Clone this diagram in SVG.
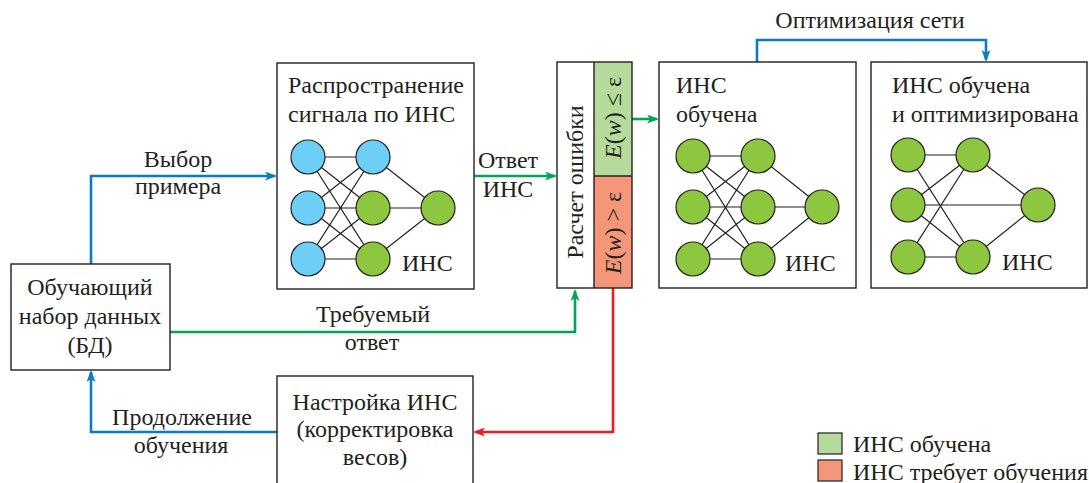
<svg xmlns="http://www.w3.org/2000/svg" width="1089" height="483" viewBox="0 0 1089 483">
<defs>
<style>
text{font-family:'Liberation Serif','Times New Roman',serif;font-size:24px;fill:#231f20}
.box{fill:#fff;stroke:#231f20;stroke-width:1.4}
.edge{stroke:#231f20;stroke-width:1.2;fill:none}
.nb{fill:#6dcff6;stroke:#231f20;stroke-width:1.2}
.ng{fill:#8dc63f;stroke:#231f20;stroke-width:1.2}
.c{fill:none;stroke-width:2.6}
.blue{stroke:#0a7cc4}
.green{stroke:#00a651}
.red{stroke:#ed1c24}
.mid{text-anchor:middle}
</style>
<marker id="ab" viewBox="0 0 12 9" refX="10" refY="4.5" markerWidth="12" markerHeight="9" markerUnits="userSpaceOnUse" orient="auto"><path d="M0,0 L12,4.5 L0,9 L3,4.5 Z" fill="#0a7cc4"/></marker>
<marker id="ag" viewBox="0 0 12 9" refX="10" refY="4.5" markerWidth="12" markerHeight="9" markerUnits="userSpaceOnUse" orient="auto"><path d="M0,0 L12,4.5 L0,9 L3,4.5 Z" fill="#00a651"/></marker>
<marker id="ar" viewBox="0 0 12 9" refX="10" refY="4.5" markerWidth="12" markerHeight="9" markerUnits="userSpaceOnUse" orient="auto"><path d="M0,0 L12,4.5 L0,9 L3,4.5 Z" fill="#ed1c24"/></marker>
</defs>
<rect width="1089" height="483" fill="#fff"/>
<g font-family="'Liberation Serif', 'Times New Roman', serif" font-size="24">

<g id="connectors">
<path class="c blue" d="M91,264 V176 H275" marker-end="url(#ab)"/>
<path class="c green" d="M474,176 H555" marker-end="url(#ag)"/>
<path class="c green" d="M632,119 H657" marker-end="url(#ag)"/>
<path class="c blue" d="M757,62 V40 H986 V60" marker-end="url(#ab)"/>
<path class="c green" d="M170,332 H575 V291" marker-end="url(#ag)"/>
<path class="c red" d="M613,288 V432 H475" marker-end="url(#ar)"/>
<path class="c blue" d="M277,432 H91 V372" marker-end="url(#ab)"/>
<text class="mid" x="178" y="167">Выбор</text>
<text class="mid" x="178" y="194">примера</text>
<text class="mid" x="508" y="168">Ответ</text>
<text class="mid" x="508" y="197">ИНС</text>
<text class="mid" x="870" y="28">Оптимизация сети</text>
<text class="mid" x="373" y="322">Требуемый</text>
<text class="mid" x="372" y="350">ответ</text>
<text class="mid" x="182" y="425">Продолжение</text>
<text class="mid" x="181" y="453">обучения</text>
</g>

<g id="dataset">
<rect class="box" x="11" y="264" width="159" height="106"/>
<text class="mid" x="90" y="295">Обучающий</text>
<text class="mid" x="90" y="324">набор данных</text>
<text class="mid" x="90" y="353">(БД)</text>
</g>

<g id="propagation">
<rect class="box" x="277" y="63" width="197" height="226"/>
<text x="288" y="93">Распространение</text>
<text x="288" y="122">сигнала по ИНС</text>
<g class="edge">
<path d="M308,157 L373,157 M308,157 L373,208 M308,157 L373,259 M308,208 L373,157 M308,208 L373,208 M308,208 L373,259 M308,259 L373,157 M308,259 L373,208 M308,259 L373,259 M373,157 L438,208 M373,208 L438,208 M373,259 L438,208"/>
</g>
<circle class="nb" cx="308" cy="157" r="17"/>
<circle class="nb" cx="308" cy="208" r="17"/>
<circle class="nb" cx="308" cy="259" r="17"/>
<circle class="nb" cx="373" cy="157" r="17"/>
<circle class="ng" cx="373" cy="208" r="17"/>
<circle class="ng" cx="373" cy="259" r="17"/>
<circle class="ng" cx="438" cy="208" r="17"/>
<text x="402" y="271">ИНС</text>
</g>

<g id="error">
<rect x="594" y="62" width="38" height="114" fill="#b5db9c"/>
<rect x="594" y="176" width="38" height="112" fill="#f4967a"/>
<rect x="557" y="62" width="75" height="226" fill="none" stroke="#231f20" stroke-width="1.4"/>
<path d="M594,62 V288 M594,176 H632" stroke="#231f20" stroke-width="1.4" fill="none"/>
<text class="mid" transform="translate(583,182) rotate(-90)">Расчет ошибки</text>
<text class="mid" transform="translate(621,118) rotate(-90)"><tspan font-style="italic">E</tspan>(<tspan font-style="italic">w</tspan>) ≤ ε</text>
<text class="mid" transform="translate(621,233) rotate(-90)"><tspan font-style="italic">E</tspan>(<tspan font-style="italic">w</tspan>) &gt; ε</text>
</g>

<g id="trained">
<rect class="box" x="659" y="62" width="197" height="226"/>
<text x="676" y="93">ИНС</text>
<text x="676" y="122">обучена</text>
<g class="edge">
<path d="M693,156 L758,156 M693,156 L758,207 M693,156 L758,259 M693,207 L758,156 M693,207 L758,207 M693,207 L758,259 M693,259 L758,156 M693,259 L758,207 M693,259 L758,259 M758,156 L822,207 M758,207 L822,207 M758,259 L822,207"/>
</g>
<circle class="ng" cx="693" cy="156" r="17"/>
<circle class="ng" cx="693" cy="207" r="17"/>
<circle class="ng" cx="693" cy="259" r="17"/>
<circle class="ng" cx="758" cy="156" r="17"/>
<circle class="ng" cx="758" cy="207" r="17"/>
<circle class="ng" cx="758" cy="259" r="17"/>
<circle class="ng" cx="822" cy="207" r="17"/>
<text x="785" y="271">ИНС</text>
</g>

<g id="optimized">
<rect class="box" x="871" y="62" width="216" height="226"/>
<text x="892" y="93">ИНС обучена</text>
<text x="892" y="122">и оптимизирована</text>
<g class="edge">
<path d="M908,155 L973,155 M908,155 L973,257 M908,205 L973,155 M908,205 L1038,205 M908,205 L973,257 M908,257 L973,155 M908,257 L973,257 M973,155 L1038,205 M973,257 L1038,205"/>
</g>
<circle class="ng" cx="908" cy="155" r="17"/>
<circle class="ng" cx="908" cy="205" r="17"/>
<circle class="ng" cx="908" cy="257" r="17"/>
<circle class="ng" cx="973" cy="155" r="17"/>
<circle class="ng" cx="973" cy="257" r="17"/>
<circle class="ng" cx="1038" cy="205" r="17"/>
<text x="1002" y="270">ИНС</text>
</g>

<g id="adjust">
<rect class="box" x="277" y="376" width="196" height="120"/>
<text class="mid" x="375" y="410">Настройка ИНС</text>
<text class="mid" x="375" y="437">(корректировка</text>
<text class="mid" x="375" y="465">весов)</text>
</g>

<g id="legend">
<rect x="818" y="433" width="24" height="21" fill="#b5db9c" stroke="#231f20" stroke-width="1.2"/>
<text x="853" y="452">ИНС обучена</text>
<rect x="818" y="460" width="24" height="21" fill="#f4967a" stroke="#231f20" stroke-width="1.2"/>
<text x="853" y="480">ИНС требует обучения</text>
</g>
</g>
</svg>
